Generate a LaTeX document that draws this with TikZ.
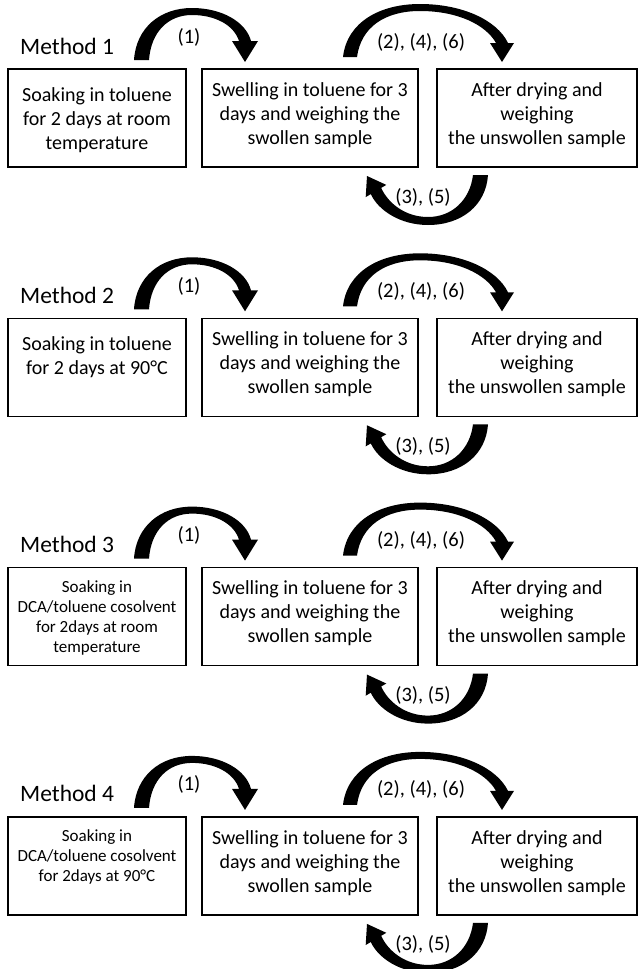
\documentclass[tikz,border=0pt]{standalone}
\usepackage{fontspec}
\setmainfont{Carlito}
\tikzset{
  box/.style={draw, line width=1.6pt, inner sep=0pt},
  boxtext/.style={font=\fontsize{20}{24}\selectfont, align=center, inner sep=0pt},
  smalltext/.style={font=\fontsize{17}{20}\selectfont, align=center, inner sep=0pt},
  mlabel/.style={font=\fontsize{23.5}{28}\selectfont, anchor=base west, inner sep=0pt},
  alabel/.style={font=\fontsize{20.5}{24}\selectfont, inner sep=0pt},
  arr/.style={fill=black, draw=none}
}
\newcommand\methodblock[5]{%
\begin{scope}[yshift=-#1pt]
  \node[mlabel] (m#2) at (20,54) {Method #2};
  \node[box, minimum width=178pt, minimum height=98pt] (a#2) at (97,118) {};
  \node[box, minimum width=216pt, minimum height=98pt] (b#2) at (310,118) {};
  \node[box, minimum width=200pt, minimum height=98pt] (c#2) at (537,118) {};
  \node[#4] (ta#2) at (97,#5) {#3};
  \node[boxtext] (tb#2) at (310,115) {Swelling in toluene for 3\\days and weighing the\\swollen sample};
  \node[boxtext] (tc#2) at (537,115) {After drying and\\weighing\\the unswollen sample};
  % arrow (1)
  \path[arr] (134,60) .. controls (136,28) and (160,8) .. (192,8)
     .. controls (222,8) and (246,22) .. (251,41) -- (258,41) -- (245,62) -- (232,41) -- (239,41)
     .. controls (234,25) and (215,15) .. (192,15)
     .. controls (168,15) and (151,32) .. (149,60) -- cycle;
  % arrow (2),(4),(6)
  \path[arr] (343,57) .. controls (347,22) and (380,4) .. (420,4)
     .. controls (462,4) and (497,20) .. (508,43) -- (514,43) -- (502,62) -- (490,43) -- (496,43)
     .. controls (486,25) and (458,11) .. (420,11)
     .. controls (385,11) and (361,27) .. (357,57) -- cycle;
  % arrow (3),(5)
  \path[arr] (488,175) .. controls (486,205) and (462,225) .. (428,225)
     .. controls (400,225) and (378,210) .. (370.8,194.1) -- (365.7,197.1) -- (367,176)
     -- (386.3,184.9) -- (381.2,187.9)
     .. controls (388,203) and (405,217) .. (428,217)
     .. controls (452,217) and (470,200) .. (473,175) -- cycle;
  \node[alabel] (l1#2) at (189,37) {(1)};
  \node[alabel] (l2#2) at (421,42) {(2), (4), (6)};
  \node[alabel] (l3#2) at (423,197) {(3), (5)};
\end{scope}}
\begin{document}
\begin{tikzpicture}[x=1pt,y=-1pt]
\useasboundingbox (0,0) rectangle (640,969);
\methodblock{0}{1}{Soaking in toluene\\for 2 days at room\\temperature}{boxtext}{120}
\methodblock{249.3}{2}{Soaking in toluene\\for 2 days at 90°C}{boxtext}{108}
\methodblock{498.6}{3}{Soaking in\\DCA/toluene cosolvent\\for 2days at room\\temperature}{smalltext}{119}
\methodblock{747.9}{4}{Soaking in\\DCA/toluene cosolvent\\for 2days at 90°C}{smalltext}{109}
\end{tikzpicture}
\end{document}
